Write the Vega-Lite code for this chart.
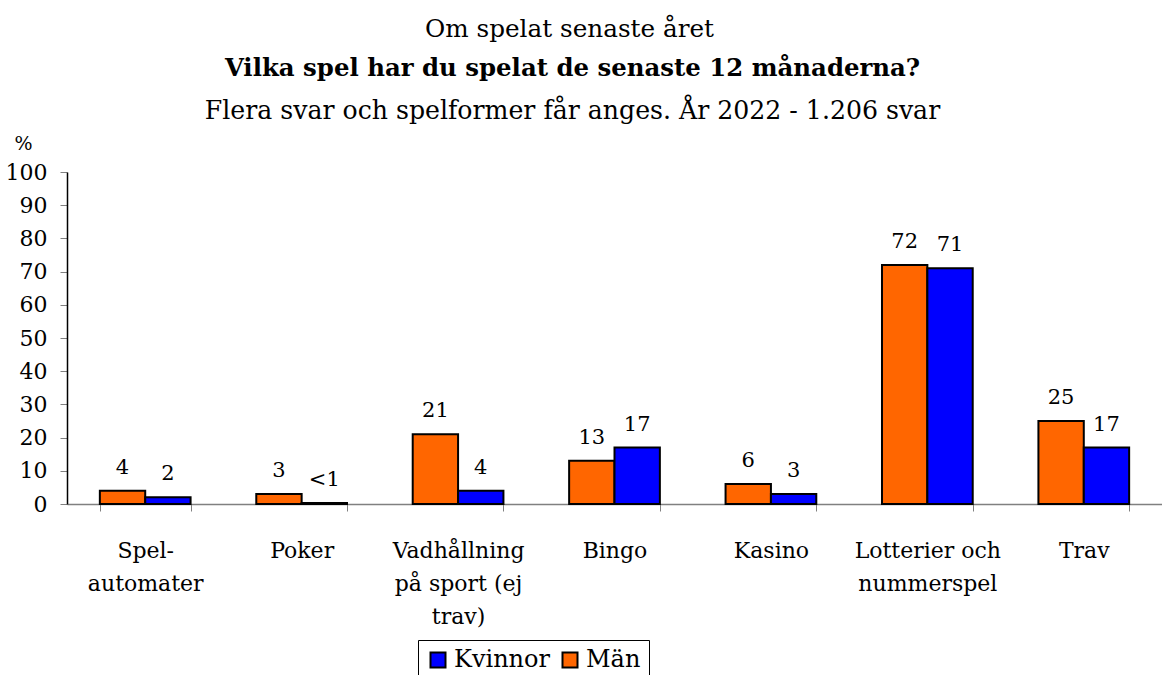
{
  "$schema": "https://vega.github.io/schema/vega-lite/v6.json",
  "autosize": {"type": "pad"},
  "padding": {"left": 5, "top": 16, "right": 0, "bottom": 0},
  "background": "white",
  "config": {
    "font": "DejaVu Serif",
    "view": {"stroke": null},
    "concat": {"spacing": 0}
  },
  "title": {
    "text": "Om spelat senaste året",
    "font": "DejaVu Serif",
    "fontSize": 24.7,
    "fontWeight": "normal",
    "color": "black",
    "anchor": "middle",
    "dx": -14,
    "offset": 15
  },
  "vconcat": [
    {
      "width": 1095,
      "height": 332,
      "title": {
        "text": "Vilka spel har du spelat de senaste 12 månaderna?",
        "subtitle": "Flera svar och spelformer får anges. År 2022 - 1.206 svar",
        "font": "DejaVu Serif",
        "fontSize": 24.4,
        "fontWeight": "bold",
        "color": "black",
        "subtitleFont": "DejaVu Serif",
        "subtitleFontSize": 25.2,
        "subtitleColor": "black",
        "subtitlePadding": 17,
        "anchor": "middle",
        "dx": -42,
        "offset": 9
      },
      "data": {
        "values": [
          {"spel": "Spel-\nautomater", "kon": "Män", "andel": 4, "etikett": "4"},
          {"spel": "Spel-\nautomater", "kon": "Kvinnor", "andel": 2, "etikett": "2"},
          {"spel": "Poker", "kon": "Män", "andel": 3, "etikett": "3"},
          {"spel": "Poker", "kon": "Kvinnor", "andel": 0.3, "etikett": "<1"},
          {"spel": "Vadhållning\npå sport (ej\ntrav)", "kon": "Män", "andel": 21, "etikett": "21"},
          {"spel": "Vadhållning\npå sport (ej\ntrav)", "kon": "Kvinnor", "andel": 4, "etikett": "4"},
          {"spel": "Bingo", "kon": "Män", "andel": 13, "etikett": "13"},
          {"spel": "Bingo", "kon": "Kvinnor", "andel": 17, "etikett": "17"},
          {"spel": "Kasino", "kon": "Män", "andel": 6, "etikett": "6"},
          {"spel": "Kasino", "kon": "Kvinnor", "andel": 3, "etikett": "3"},
          {"spel": "Lotterier och\nnummerspel", "kon": "Män", "andel": 72, "etikett": "72"},
          {"spel": "Lotterier och\nnummerspel", "kon": "Kvinnor", "andel": 71, "etikett": "71"},
          {"spel": "Trav", "kon": "Män", "andel": 25, "etikett": "25"},
          {"spel": "Trav", "kon": "Kvinnor", "andel": 17, "etikett": "17"}
        ]
      },
      "encoding": {
        "x": {
          "field": "spel",
          "type": "nominal",
          "sort": null,
          "scale": {"paddingInner": 0.42, "paddingOuter": 0.21},
          "axis": {
            "title": null,
            "labelAngle": 0,
            "labelExpr": "split(datum.label, '\\n')",
            "labelFont": "DejaVu Serif",
            "labelFontSize": 22,
            "labelColor": "black",
            "labelLineHeight": 33,
            "labelBaseline": "top",
            "labelPadding": 29,
            "tickBand": "extent",
            "tickSize": 7,
            "tickColor": "#808080",
            "domainColor": "#808080",
            "domainWidth": 1.5,
            "labelLimit": 0
          }
        },
        "xOffset": {
          "field": "kon",
          "type": "nominal",
          "sort": ["Män", "Kvinnor"],
          "scale": {"paddingInner": 0, "paddingOuter": 0}
        },
        "y": {
          "field": "andel",
          "type": "quantitative",
          "scale": {"domain": [0, 100], "nice": false},
          "axis": {
            "title": "%",
            "titleAngle": 0,
            "titleAlign": "left",
            "titleBaseline": "middle",
            "titleX": -53,
            "titleY": -29,
            "titleFont": "DejaVu Serif",
            "titleFontSize": 19,
            "titleFontWeight": "normal",
            "titleColor": "black",
            "values": [0, 10, 20, 30, 40, 50, 60, 70, 80, 90, 100],
            "grid": false,
            "labelFont": "DejaVu Serif",
            "labelFontSize": 22,
            "labelColor": "black",
            "labelPadding": 13,
            "tickSize": 7,
            "tickColor": "#808080",
            "domainColor": "black",
            "domainWidth": 1.5
          }
        }
      },
      "layer": [
        {
          "mark": {"type": "bar", "stroke": "black", "strokeWidth": 2},
          "encoding": {
            "color": {
              "field": "kon",
              "type": "nominal",
              "scale": {"domain": ["Kvinnor", "Män"], "range": ["#0000FF", "#FF6600"]},
              "legend": {
                "orient": "none",
                "legendX": 351,
                "legendY": 468,
                "direction": "horizontal",
                "title": null,
                "strokeColor": "black",
                "fillColor": "white",
                "padding": 8,
                "symbolType": "square",
                "symbolSize": 225,
                "symbolStrokeColor": "black",
                "symbolStrokeWidth": 2,
                "labelFont": "DejaVu Serif",
                "labelFontSize": 24,
                "labelColor": "black",
                "labelOffset": 4,
                "columnPadding": 8
              }
            }
          }
        },
        {
          "mark": {"type": "text", "baseline": "alphabetic", "dy": -17, "font": "DejaVu Serif", "fontSize": 21, "color": "black"},
          "encoding": {
            "text": {"field": "etikett", "type": "nominal"}
          }
        }
      ]
    }
  ]
}
